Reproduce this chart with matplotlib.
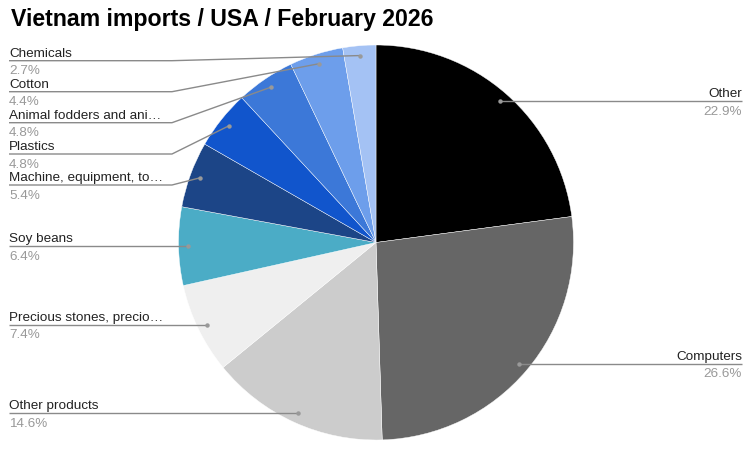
import numpy as np
import matplotlib
matplotlib.use("Agg")
import matplotlib.pyplot as plt

categories = ["Other", "Computers", "Other products", "Precious stones, precio\u2026",
              "Soy beans", "Machine, equipment, to\u2026", "Plastics",
              "Animal fodders and ani\u2026", "Cotton", "Chemicals"]
values = [22.9, 26.6, 14.6, 7.4, 6.4, 5.4, 4.8, 4.8, 4.4, 2.7]
colors = ["#000000", "#666666", "#cccccc", "#efefef", "#4bacc6", "#1c4587",
          "#1155cc", "#3c78d8", "#6d9eeb", "#a4c2f4"]

W, H = 756, 461
fig = plt.figure(figsize=(W / 100, H / 100), dpi=100)
ax = fig.add_axes([0, 0, 1, 1])
ax.set_xlim(0, W)
ax.set_ylim(H, 0)
ax.set_aspect("equal")
ax.axis("off")

cx, cy, R = 376, 242.5, 197.5
ax.pie(values, colors=colors, startangle=-90, counterclock=True,
       center=(cx, cy), radius=R, frame=True,
       wedgeprops=dict(edgecolor="white", linewidth=0.3))
ax.set_xlim(0, W)
ax.set_ylim(H, 0)
ax.axis("off")

FONT = "Liberation Sans"
FS = 9.7
fig.text(11 / W, 1 - 26 / H, "Vietnam imports / USA / February 2026",
         fontsize=16.7, fontweight="bold", family=FONT, color="#000000",
         va="baseline", ha="left")

# label layout: (side, line_y, bend_x)
layout = {
    "Other": ("R", None, None),
    "Computers": ("R", None, None),
    "Other products": ("L", None, None),
    "Precious stones, precio\u2026": ("L", None, None),
    "Soy beans": ("L", None, None),
    "Machine, equipment, to\u2026": ("L", 185, 172),
    "Plastics": ("L", 154, 172),
    "Animal fodders and ani\u2026": ("L", 122.7, 172),
    "Cotton": ("L", 91.7, 172),
    "Chemicals": ("L", 60.7, 172),
}

total = sum(values)
cum = 0.0
line_col = "#8a8a8a"
for name, v in zip(categories, values):
    mid = (cum + v / 2) / total * 2 * np.pi
    cum += v
    px = cx + 0.95 * R * np.sin(mid)
    py = cy - 0.95 * R * np.cos(mid)
    side, ly, bx = layout[name]
    pct = f"{v / total * 100:.1f}%"
    if side == "R":
        ax.plot([px, 742], [py, py], color=line_col, lw=1, solid_capstyle="butt")
        ax.text(742, py - 4, name, ha="right", va="baseline", fontsize=FS,
                family=FONT, color="#222222")
        ax.text(742, py + 13.5, pct, ha="right", va="baseline", fontsize=FS,
                family=FONT, color="#999999")
    else:
        if ly is None:
            ly = py
            xs, ys = [9, px], [ly, py]
        else:
            xs, ys = [9, bx, px], [ly, ly, py]
        ax.plot(xs, ys, color=line_col, lw=1, solid_capstyle="butt")
        ax.text(9, ly - 4, name, ha="left", va="baseline", fontsize=FS,
                family=FONT, color="#222222")
        ax.text(9, ly + 13.5, pct, ha="left", va="baseline", fontsize=FS,
                family=FONT, color="#999999")
    ax.plot([px], [py], "o", ms=3.2, color="#999999", mec="none")

fig.savefig("out.png", dpi=100)
